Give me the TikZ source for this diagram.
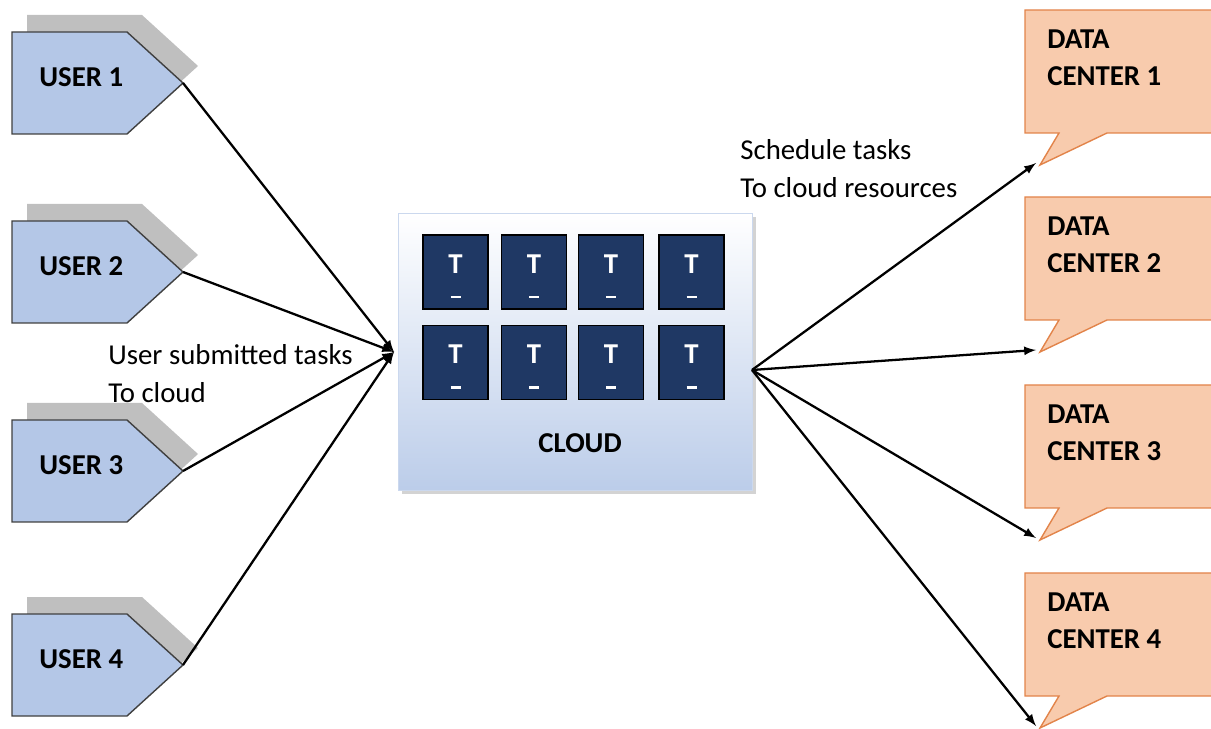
\documentclass[tikz,border=0pt]{standalone}
\usepackage{fontspec}
\setmainfont{Carlito}
\usetikzlibrary{shapes,arrows,shadows,calc}
\definecolor{userblue}{HTML}{B4C7E7}
\definecolor{usershadow}{HTML}{BFBFBF}
\definecolor{dcfill}{HTML}{F8CBAD}
\definecolor{dcline}{HTML}{E2844A}
\definecolor{tasknavy}{HTML}{1F3864}

\begin{document}
\begin{tikzpicture}[x=0.02cm,y=-0.02cm,font=\fontsize{16.4}{21.5}\selectfont,
  boldtext/.style={font=\fontsize{16.4}{21.5}\selectfont\bfseries},
  tile/.style={draw=black, fill=tasknavy, line width=0.8pt, minimum width=1.3cm, minimum height=1.48cm, inner sep=0},
  link/.style={line width=1.3pt, -latex}]
\useasboundingbox (0,0) rectangle (1211,729);
\clip (0,0) rectangle (1211,729);

% users
\foreach \n/\y in {1/83,2/272,3/471,4/665} {
	\fill[usershadow] (27,\y-68) -- (142,\y-68) -- (198,\y-17) -- (142,\y+34) -- (27,\y+34) -- cycle;
	\draw[fill=userblue, draw=black!75, line width=0.8pt] (12,\y-51) -- (127,\y-51) -- (183,\y) -- (127,\y+51) -- (12,\y+51) -- cycle;
	\node[boldtext, anchor=west, inner sep=0] (user\n) at (39,\y-6) {USER \n};
	\coordinate (tip\n) at (183,\y);
}

% cloud
\node[draw=userblue!70, top color=white, bottom color=userblue!90, minimum width=7.08cm, minimum height=5.54cm, drop shadow={opacity=0.35}] (cloud) at (575,351.5) {};
\foreach \i/\x in {1/455.5,2/534,3/611,4/691.5} {
	\foreach \j/\y in {1/272,2/362.5} {
		\node[tile] (t\j\i) at (\x,\y) {};
		\node[boldtext, text=white, inner sep=0] (tT\j\i) at ($(t\j\i)+(0,-8)$) {T};
		\draw[white, line width=1.6pt] ($(t\j\i)+(-5,25)$) -- ($(t\j\i)+(5,25)$);
	}
}
\node[boldtext] (cloudlabel) at (580,443) {CLOUD};
\coordinate (cin) at (394,352);
\coordinate (cout) at (752,370);

% data centers
\foreach \n/\t in {1/10,2/197,3/385,4/573} {
	\draw[fill=dcfill, draw=dcline, line width=0.8pt] (1025,\t) -- (1225,\t) -- (1225,\t+123) -- (1107,\t+123) -- (1040,\t+155) -- (1059,\t+123) -- (1025,\t+123) -- cycle;
	\node[boldtext, anchor=north west, align=left, inner sep=0] (dctext\n) at (1047,\t+19) {DATA\\CENTER \n};
	\coordinate (dc\n) at (1036,\t+153);
}

% labels
\node[anchor=west, align=left, inner sep=0] (usernote) at (108,373.5) {User submitted tasks\\To cloud};
\node[anchor=west, align=left, inner sep=0] (schednote) at (740,168.5) {Schedule tasks\\To cloud resources};

% connectors
\foreach \n in {1,...,4} {
	\draw[link] (tip\n) -- (cin);
	\draw[link] (cout) -- (dc\n);
}
\end{tikzpicture}
\end{document}
